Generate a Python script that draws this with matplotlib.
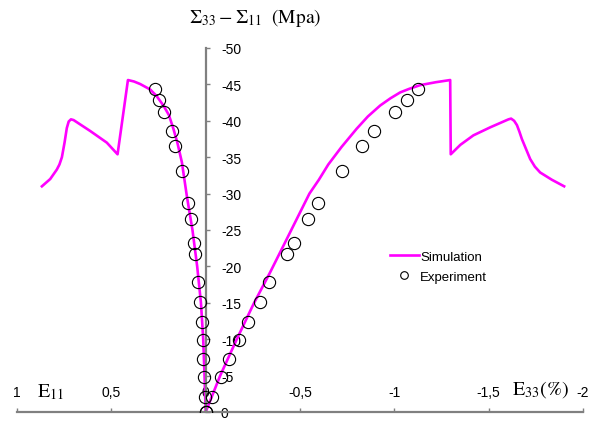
import matplotlib.pyplot as plt
from matplotlib.lines import Line2D

plt.rcParams['font.family'] = ['Liberation Sans', 'DejaVu Sans']
plt.rcParams['axes.unicode_minus'] = False
plt.rcParams['mathtext.fontset'] = 'stix'

# simulation, E11 branch (strain %, stress MPa)
sim_e11 = [0, 0.006, 0.013, 0.025, 0.045, 0.07, 0.10, 0.126, 0.15, 0.171, 0.195,
           0.224, 0.26, 0.294, 0.347, 0.38, 0.412, 0.467, 0.524, 0.612, 0.70, 0.714,
           0.726, 0.736, 0.748, 0.762, 0.775, 0.789, 0.824, 0.868]
sim_s11 = [0, -5, -10, -15, -20, -25, -29.7, -34.3, -37.0, -38.9, -40.8,
           -42.1, -43.4, -44.3, -45.05, -45.4, -45.6, -35.4, -37.0, -38.6, -40.1, -40.2,
           -39.9, -39.0, -37.0, -35.0, -34.0, -33.3, -32.0, -31.0]

# simulation, E33 branch
sim_e33 = [0, -0.077, -0.165, -0.253, -0.342, -0.448, -0.55, -0.60, -0.65, -0.72,
           -0.80, -0.86, -0.925, -0.98, -1.031, -1.08, -1.137, -1.22, -1.296, -1.299,
           -1.35, -1.419, -1.508, -1.605, -1.619, -1.635, -1.65, -1.663, -1.676, -1.70,
           -1.720, -1.745, -1.773, -1.835, -1.90]
sim_s33 = [0, -5.0, -10.0, -14.8, -19.2, -24.7, -30.0, -31.9, -34.0, -36.4,
           -38.9, -40.6, -42.1, -43.1, -43.9, -44.4, -44.9, -45.3, -45.6, -35.4,
           -36.7, -38.0, -39.1, -40.2, -40.3, -40.0, -39.4, -38.5, -37.5, -36.0,
           -34.75, -33.7, -32.9, -31.9, -31.0]

# experiment
exp_s = [0, -2.1, -4.85, -7.25, -9.85, -12.3, -15.15, -17.8, -21.7, -23.2, -26.45,
         -28.65, -33.1, -36.5, -38.6, -41.2, -42.8, -44.35]
exp_e11 = [0, 0.003, 0.008, 0.012, 0.015, 0.020, 0.029, 0.038, 0.056, 0.061, 0.077,
           0.091, 0.125, 0.160, 0.179, 0.220, 0.245, 0.271]
exp_e33 = [0, -0.033, -0.081, -0.126, -0.179, -0.227, -0.289, -0.338, -0.430, -0.469,
           -0.541, -0.598, -0.722, -0.831, -0.893, -1.004, -1.066, -1.128]

xticks = [1, 0.5, 0, -0.5, -1, -1.5, -2]
xlabels = ['1', '0,5', '0', '-0,5', '-1', '-1,5', '-2']
yticks = [0, -5, -10, -15, -20, -25, -30, -35, -40, -45, -50]
ylabels = ['0', '-5', '-10', '-15', '-20', '-25', '-30', '-35', '-40', '-45', '-50']

W, H = 596, 427
fig = plt.figure(figsize=(W / 100, H / 100), dpi=100)
ax = fig.add_axes([17 / W, 14 / H, 566 / W, 364 / H])
ax.set_xlim(1, -2)
ax.set_ylim(0, -50)

magenta = '#ff00ff'
ax.plot(sim_e11, sim_s11, color=magenta, lw=1.9, zorder=2, solid_joinstyle='round')
ax.plot(sim_e33, sim_s33, color=magenta, lw=1.9, zorder=2, solid_joinstyle='round')
ax.plot(exp_e11, exp_s, 'o', mfc='none', mec='black', ms=8.8, mew=0.8, zorder=3)
ax.plot(exp_e33, exp_s, 'o', mfc='none', mec='black', ms=8.8, mew=0.8, zorder=3)

grey = '#808080'
ax.spines['left'].set_visible(False)
ax.spines['bottom'].set_visible(False)
ax.spines['right'].set_position(('data', 0))
ax.spines['top'].set_position(('data', 0))
for s in ('right', 'top'):
    ax.spines[s].set_color(grey)
    ax.spines[s].set_linewidth(1.6)

ax.xaxis.tick_top()
ax.yaxis.tick_right()
ax.set_xticks(xticks)
ax.set_xticklabels(xlabels)
ax.set_yticks(yticks)
ax.set_yticklabels(ylabels)
ax.tick_params(axis='x', direction='out', length=3, width=1, color=grey, pad=6, labelsize=10)
ax.tick_params(axis='y', direction='out', length=3, width=1, color=grey, pad=8, labelsize=10)

fig.text(255 / W, 1 - 18 / H, r'$\Sigma_{33}-\Sigma_{11}\ \ (\mathrm{Mpa})$',
         fontsize=14, ha='center', va='center')
fig.text(51 / W, 1 - 392 / H, r'$\mathrm{E}_{11}$', fontsize=14.5, ha='center', va='center')
fig.text(541 / W, 1 - 390 / H, r'$\mathrm{E}_{33}(\%)$', fontsize=14.5, ha='center', va='center')

handles = [Line2D([], [], color=magenta, lw=1.9),
           Line2D([], [], marker='o', ls='none', mfc='none', mec='black', ms=5.5, mew=0.8)]
ax.legend(handles, ['Simulation', 'Experiment'], loc='upper left',
          bbox_to_anchor=(383 / W, 1 - 245 / H), bbox_transform=fig.transFigure,
          frameon=False, fontsize=9.5, handlelength=2.2, handletextpad=0.1,
          labelspacing=0.6, borderpad=0)

fig.savefig('out.png', dpi=100)
